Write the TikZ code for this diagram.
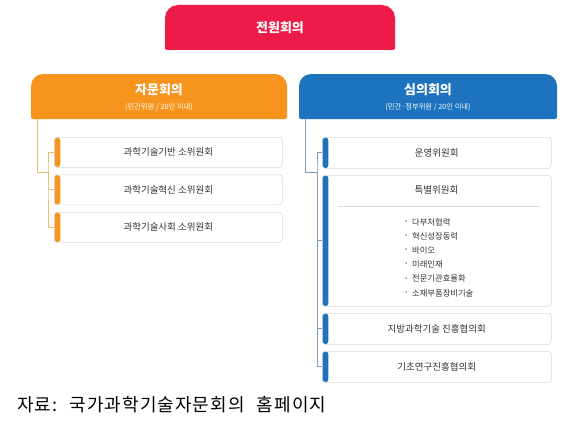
\documentclass[tikz,border=0pt]{standalone}
\usepackage{fontspec}
\setmainfont{Noto Sans CJK KR}
\newfontfamily\capfont[LetterSpace=6]{Noto Sans CJK KR}
\usetikzlibrary{calc}
\definecolor{crim}{HTML}{EE1B48}
\definecolor{orn}{HTML}{F7941D}
\definecolor{blu}{HTML}{1E73BE}
\definecolor{oline}{HTML}{F0BC6E}
\definecolor{bline}{HTML}{7F9BB5}
\definecolor{bord}{HTML}{DADADA}
\definecolor{txt}{HTML}{333333}
\begin{document}
\begin{tikzpicture}[x=1pt,y=-1pt,
  hdrtext/.style={text=white,font=\bfseries\fontsize{13}{15}\selectfont,inner sep=0},
  subtitle/.style={text=white,font=\fontsize{7.3}{9}\selectfont,inner sep=0},
  sbox/.style={draw=bord,fill=white,rounded corners=3pt,line width=0.6pt,inner sep=0,
    anchor=north west,text=txt,font=\fontsize{9.5}{11}\selectfont},
  obar/.style={path picture={\fill[orn] (path picture bounding box.north west) rectangle ([xshift=6pt]path picture bounding box.south west);}},
  bbar/.style={path picture={\fill[blu] (path picture bounding box.north west) rectangle ([xshift=6pt]path picture bounding box.south west);}},
  lnk/.style={line width=0.7pt},
  item/.style={anchor=west,inner sep=0,text=txt,font=\fontsize{8.3}{10}\selectfont},
  bul/.style={anchor=west,inner sep=0,text=blu!55!gray,font=\fontsize{6.5}{8}\selectfont}
]
\useasboundingbox[fill=white] (0,0) rectangle (572,428);

% top header
\fill[crim] (165,50) [rounded corners=2pt] -- (165,50) [rounded corners=13pt] -- (165,5) -- (395,5) [rounded corners=2pt] -- (395,50) -- cycle;
\node[hdrtext] (jw) at (280,28) {전원회의};

% orange header
\fill[orn] (31,119) [rounded corners=12pt] -- (31,74) -- (287,74) [rounded corners=2pt] -- (287,119) -- cycle;
\node[hdrtext] (zm) at (159,90) {자문회의};
\node[subtitle] (zms) at (159,107) {(민간위원 / 20인 이내)};

% blue header
\fill[blu] (299,119) [rounded corners=12pt] -- (299,74) -- (557,74) [rounded corners=2pt] -- (557,119) -- cycle;
\node[hdrtext] (sm) at (428,90) {심의회의};
\node[subtitle] (sms) at (428,107) {(민간·정부위원 / 20인 이내)};

% orange sub boxes
\node[sbox,obar,minimum width=228pt,minimum height=30pt] (o1) at (54,137) {과학기술기반 소위원회};
\node[sbox,obar,minimum width=228pt,minimum height=30pt] (o2) at (54,174.5) {과학기술혁신 소위원회};
\node[sbox,obar,minimum width=228pt,minimum height=30pt] (o3) at (54,212) {과학기술사회 소위원회};

% blue sub boxes
\node[sbox,bbar,minimum width=229pt,minimum height=31pt] (b1) at (322,137) {운영위원회};
\node[sbox,bbar,minimum width=229pt,minimum height=131pt] (b2) at (322,175) {};
\node[sbox,bbar,minimum width=229pt,minimum height=31pt] (b3) at (322,313) {지방과학기술 진흥협의회};
\node[sbox,bbar,minimum width=229pt,minimum height=31pt] (b4) at (322,351) {기초연구진흥협의회};

\node[inner sep=0,text=txt,font=\fontsize{9.5}{11}\selectfont] (b2t) at (436.5,190) {특별위원회};
\coordinate (dl) at (338,206);
\coordinate (dr) at (540,206);
\draw[bord,line width=0.6pt] (dl) -- (dr);
\foreach \t [count=\i from 0] in {다부처협력,혁신성장동력,바이오,미래인재,전문기관효율화,소재부품장비기술}{
  \node[bul] (bu\i) at (405,{222+14.2*\i}) {•};
  \node[item] (it\i) at (412,{222+14.2*\i}) {\t};
}

% orange connectors
\coordinate (oa) at (37,119);
\coordinate (ob) at (37,172);
\coordinate (oc) at (48,172);
\draw[oline,lnk] (oa) -- (ob) -- (oc);
\draw[oline,lnk] (o1.west) -| (oc) |- (o3.west);
\draw[oline,lnk] (oc) |- (o2.west);

% blue connectors
\coordinate (ba) at (305,119);
\coordinate (bb) at (305,172);
\coordinate (bc) at (317,172);
\draw[bline,lnk] (ba) -- (bb) -- (bc);
\draw[bline,lnk] (b1.west) -| (bc) |- (b4.west);
\draw[bline,lnk] (bc) |- (b2.west);
\draw[bline,lnk] (bc) |- (b3.west);

% caption
\node[anchor=west,inner sep=0,font=\capfont\fontsize{18}{20}\selectfont] (cap) at (17,405) {자료:\hspace{12pt}국가과학기술자문회의\hspace{12pt}홈페이지};
\end{tikzpicture}
\end{document}
